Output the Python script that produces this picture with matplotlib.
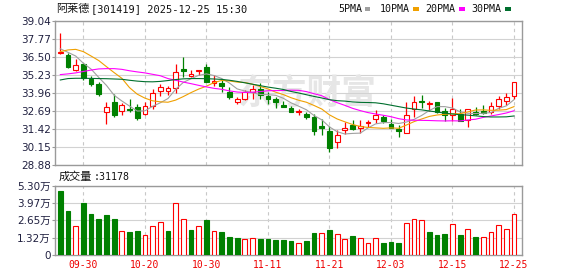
import matplotlib
matplotlib.use("Agg")
import matplotlib.pyplot as plt
from matplotlib.patches import Rectangle
import numpy as np

# ---------------- data ----------------
title_name = "阿莱德"
title_rest = "[301419] 2025-12-25 15:30"
vol_title = "成交量"
vol_last = ":31178"
watermark = "东方财富"

dates = ['09-25', '09-26', '09-29', '09-30', '10-09', '10-10', '10-13', '10-14', '10-15', '10-16',
         '10-17', '10-20', '10-21', '10-22', '10-23', '10-24', '10-27', '10-28', '10-29', '10-30',
         '10-31', '11-03', '11-04', '11-05', '11-06', '11-07', '11-10', '11-11', '11-12', '11-13',
         '11-14', '11-17', '11-18', '11-19', '11-20', '11-21', '11-24', '11-25', '11-26', '11-27',
         '11-28', '12-01', '12-02', '12-03', '12-04', '12-05', '12-08', '12-09', '12-10', '12-11',
         '12-12', '12-15', '12-16', '12-17', '12-18', '12-19', '12-22', '12-23', '12-24', '12-25']
tick_dates = ['09-30', '10-20', '10-30', '11-11', '11-21', '12-03', '12-15', '12-25']

opens = [36.78, 36.64, 35.63, 36.01, 35.00, 34.64, 32.64, 33.35, 32.74, 32.85,
         32.99, 32.48, 33.04, 34.10, 34.15, 34.36, 35.65, 35.21, 35.55, 35.82,
         34.67, 34.71, 34.08, 33.35, 33.58, 34.05, 34.29, 33.77, 33.54, 33.11,
         32.93, 32.62, 32.48, 32.27, 31.63, 31.30, 30.53, 31.40, 31.70, 31.51,
         31.84, 32.13, 32.27, 31.77, 31.47, 31.18, 32.83, 33.42, 33.18, 33.35,
         32.71, 32.45, 32.53, 32.05, 32.67, 32.74, 32.64, 33.04, 33.40, 33.75]
highs = [38.22, 36.83, 36.36, 36.12, 35.18, 34.76, 33.35, 33.94, 33.28, 33.54,
         33.18, 33.35, 34.29, 34.64, 34.48, 36.01, 36.52, 35.58, 35.60, 36.01,
         35.23, 34.88, 34.41, 33.70, 34.17, 34.57, 34.69, 34.05, 33.70, 33.42,
         33.07, 32.88, 32.64, 32.53, 32.17, 31.63, 31.35, 31.94, 32.05, 32.05,
         32.05, 32.76, 32.45, 32.13, 31.70, 33.35, 33.77, 33.82, 33.44, 33.35,
         32.93, 33.63, 32.88, 32.85, 32.99, 33.11, 33.35, 33.77, 33.98, 34.74]
lows = [36.74, 35.75, 35.54, 34.88, 34.48, 33.77, 31.82, 32.29, 32.41, 32.64,
        32.05, 32.41, 32.88, 33.77, 33.87, 34.01, 35.11, 35.11, 35.28, 34.76,
        34.48, 34.05, 33.54, 33.23, 33.47, 33.54, 33.54, 33.23, 32.95, 32.97,
        32.62, 32.45, 32.17, 31.04, 31.00, 29.82, 30.10, 31.11, 31.35, 31.18,
        31.58, 31.89, 31.87, 31.49, 30.88, 31.18, 32.29, 32.93, 32.69, 32.60,
        32.01, 32.01, 32.01, 31.58, 32.41, 32.53, 32.53, 32.88, 33.11, 33.54]
closes = [36.86, 35.82, 35.94, 35.07, 34.64, 33.94, 33.02, 32.41, 33.11, 32.81,
          32.22, 33.04, 34.01, 34.38, 34.31, 35.44, 35.52, 35.30, 35.60, 34.78,
          34.83, 34.48, 33.70, 33.54, 34.05, 34.24, 33.87, 33.58, 33.35, 33.02,
          32.64, 32.68, 32.31, 31.28, 31.54, 30.13, 31.00, 31.51, 31.47, 31.63,
          31.96, 32.41, 31.98, 31.54, 31.28, 32.45, 33.35, 33.38, 33.30, 32.64,
          32.45, 32.83, 32.01, 32.83, 32.53, 32.57, 33.04, 33.54, 33.68, 34.74]
prev_close = 37.30  # close of the day before the window (first volume bar is green)

volume_wan = [4.90, 3.36, 2.18, 3.97, 3.15, 2.74, 3.05, 2.74, 1.79, 1.74,
              1.82, 1.49, 2.18, 2.49, 1.82, 3.95, 2.79, 1.90, 2.18, 2.67,
              1.79, 1.74, 1.36, 1.28, 1.18, 1.26, 1.20, 1.20, 1.13, 1.13,
              1.05, 0.90, 1.05, 1.67, 1.67, 1.90, 1.59, 1.20, 1.44, 1.26,
              0.90, 1.26, 0.90, 0.97, 0.90, 2.41, 2.79, 2.64, 1.74, 1.51,
              1.59, 2.33, 1.51, 1.95, 1.36, 1.36, 1.74, 2.28, 1.95, 3.12]

ma5 = [37.10, 36.85, 36.59, 36.08, 35.67, 35.08, 34.52, 33.82, 33.42, 33.06,
       32.71, 32.72, 33.04, 33.29, 33.59, 34.24, 34.73, 34.99, 35.23, 35.33,
       35.21, 35.00, 34.68, 34.27, 34.12, 34.00, 33.88, 33.86, 33.82, 33.61,
       33.29, 33.05, 32.80, 32.39, 32.09, 31.59, 31.25, 31.09, 31.13, 31.15,
       31.51, 31.80, 31.89, 31.90, 31.83, 31.93, 32.12, 32.40, 32.75, 33.02,
       33.02, 32.92, 32.65, 32.55, 32.53, 32.55, 32.60, 32.90, 33.07, 33.51]
ma10 = [36.90, 37.02, 37.06, 36.90, 36.59, 36.27, 35.84, 35.42, 35.02, 34.36,
        33.90, 33.62, 33.43, 33.36, 33.33, 33.48, 33.73, 34.01, 34.26, 34.46,
        34.72, 34.87, 34.83, 34.75, 34.72, 34.60, 34.44, 34.27, 34.04, 33.87,
        33.65, 33.47, 33.33, 33.10, 32.85, 32.44, 32.15, 31.95, 31.76, 31.62,
        31.55, 31.52, 31.49, 31.52, 31.49, 31.72, 31.96, 32.15, 32.33, 32.43,
        32.48, 32.52, 32.52, 32.65, 32.78, 32.79, 32.76, 32.77, 32.81, 33.02]
ma20 = [35.28, 35.33, 35.40, 35.50, 35.60, 35.68, 35.70, 35.70, 35.65, 35.55,
        35.47, 35.40, 35.30, 35.20, 35.00, 34.88, 34.75, 34.64, 34.52, 34.41,
        34.31, 34.24, 34.13, 34.05, 34.02, 34.04, 34.08, 34.14, 34.15, 34.16,
        34.18, 34.17, 34.08, 33.93, 33.79, 33.52, 33.30, 33.11, 32.90, 32.74,
        32.60, 32.50, 32.41, 32.31, 32.17, 32.08, 32.06, 32.05, 32.04, 32.02,
        32.01, 32.02, 32.01, 32.08, 32.13, 32.26, 32.36, 32.46, 32.57, 32.73]
ma30 = [34.90, 35.00, 35.02, 35.02, 35.01, 35.00, 34.99, 34.97, 34.95, 34.88,
        34.82, 34.78, 34.77, 34.80, 34.86, 34.93, 34.98, 35.00, 35.00, 34.99,
        34.97, 34.94, 34.88, 34.80, 34.70, 34.60, 34.50, 34.40, 34.32, 34.23,
        34.09, 33.98, 33.86, 33.74, 33.63, 33.51, 33.44, 33.41, 33.35, 33.32,
        33.31, 33.29, 33.22, 33.12, 33.02, 32.92, 32.85, 32.79, 32.71, 32.64,
        32.56, 32.50, 32.45, 32.42, 32.37, 32.32, 32.29, 32.29, 32.30, 32.36]
ma_names = ['5PMA', '10PMA', '20PMA', '30PMA']

price_ticks = [28.88, 30.15, 31.42, 32.69, 33.96, 35.23, 36.50, 37.77, 39.04]
vol_ticks = [0, 1.32, 2.65, 3.97, 5.30]
vol_tick_labels = ['0', '1.32万', '2.65万', '3.97万', '5.30万']

# ---------------- styles ----------------
RED = '#ff0000'
GREEN = '#008000'
MA_COLORS = ['#a0a0a0', '#f0a000', '#ff00ff', '#006f2e']
SPINE = '#9a9a9a'
GRID = '#d2d2d2'
LABEL = '#202040'
CJK = ['Noto Sans CJK SC', 'DejaVu Sans']
NUMCJK = ['DejaVu Sans', 'Noto Sans CJK SC']
MONO = ['DejaVu Sans Mono', 'Noto Sans CJK SC']

W, H = 578, 276
fig = plt.figure(figsize=(W / 100, H / 100), dpi=100)


def fx(px):
    return px / W


def fy(py):
    return 1 - py / H


LEFT, RIGHT = 55, 522.3
ax1 = fig.add_axes([fx(LEFT), fy(165.3), (RIGHT - LEFT) / W, (165.3 - 21.3) / H])
ax2 = fig.add_axes([fx(LEFT), fy(254.7), (RIGHT - LEFT) / W, (254.7 - 186.0) / H])

n = len(closes)
x = np.arange(n)
o = np.array(opens)
h = np.array(highs)
lo = np.array(lows)
c = np.array(closes)
tick_idx = [dates.index(d) for d in tick_dates]

for ax in (ax1, ax2):
    ax.set_xlim(-0.69, n + 0.08)
    for s in ax.spines.values():
        s.set_color(SPINE)
        s.set_linewidth(1.0)
    ax.set_axisbelow(True)
    ax.set_xticks(tick_idx)
    ax.xaxis.grid(True, linestyle=(0, (3, 3)), color='#c8c8c8', linewidth=0.8)
    ax.yaxis.grid(True, linestyle='-', color=GRID, linewidth=0.8)
    ax.tick_params(axis='y', length=2, width=0.8, color=SPINE, pad=1,
                   labelsize=7.5, labelcolor=LABEL)

# ---------- price panel ----------
up = c >= o
col = np.where(up, RED, GREEN)
body_lo = np.minimum(o, c)
body_hi = np.maximum(o, c)
body_h = np.maximum(body_hi - body_lo, 0.03)
ax1.vlines(x, lo, body_lo, colors=col, linewidth=0.9, zorder=2)
ax1.vlines(x, body_hi, h, colors=col, linewidth=0.9, zorder=2)
ax1.bar(x, body_h, bottom=body_lo, width=0.62, color=np.where(up, 'white', GREEN),
        edgecolor=col, linewidth=0.8, zorder=3)

for vals, mc in zip([ma5, ma10, ma20, ma30], MA_COLORS):
    ax1.plot(x, vals, color=mc, linewidth=0.8, zorder=4)

ax1.set_ylim(price_ticks[0], price_ticks[-1])
ax1.set_yticks(price_ticks)
ax1.set_yticklabels([f'{t:.2f}' for t in price_ticks])
ax1.tick_params(axis='x', length=0, labelbottom=False)

# faint watermark behind the candles
ax1.text(fx(307), fy(93), watermark, transform=fig.transFigure, family=CJK, fontsize=25,
         fontweight='bold', color='#e6e6e6', ha='center', va='center', zorder=1)

# ---------- volume panel ----------
prevs = np.concatenate([[prev_close], c[:-1]])
vup = c >= prevs
ax2.bar(x, volume_wan, width=0.62, color=np.where(vup, 'white', GREEN),
        edgecolor=np.where(vup, RED, GREEN), linewidth=0.8, zorder=3)
ax2.set_ylim(0, vol_ticks[-1])
ax2.set_yticks(vol_ticks)
ax2.set_yticklabels(vol_tick_labels)
for lab in ax2.get_yticklabels():
    lab.set_family(NUMCJK)
ax2.set_xticklabels(tick_dates)
ax2.tick_params(axis='x', length=0, pad=4, labelsize=7, labelcolor='#ee0000')
for lab in ax2.get_xticklabels():
    lab.set_family(MONO)

# ---------- header texts ----------
fig.text(fx(56), fy(8.6), title_name, family=CJK, fontsize=8, va='center', ha='left', color='#111111')
fig.text(fx(90.7), fy(8.6), title_rest, family=MONO, fontsize=7.5, va='center', ha='left', color='#111111')

fig.text(fx(58.3), fy(176.7), vol_title, family=CJK, fontsize=8, va='center', ha='left', color='#111111')
fig.text(fx(93.3), fy(176.7), vol_last, family=MONO, fontsize=7.1, va='center', ha='left', color='#111111')

# legend of moving averages
leg_x = [338.3, 380.0, 425.7, 471.7]
sq_x = [365.0, 413.3, 459.3, 505.3]
for name, lx, sx, mc in zip(ma_names, leg_x, sq_x, MA_COLORS):
    fig.text(fx(lx), fy(8.8), name, family=MONO, fontsize=7.2, va='center', ha='left', color='#111111')
    fig.patches.append(Rectangle((fx(sx), fy(10.7)), 5.4 / W, 3.4 / H, transform=fig.transFigure,
                                 facecolor=mc, edgecolor='none', figure=fig))

fig.savefig('out.png', dpi=100, facecolor='white')
